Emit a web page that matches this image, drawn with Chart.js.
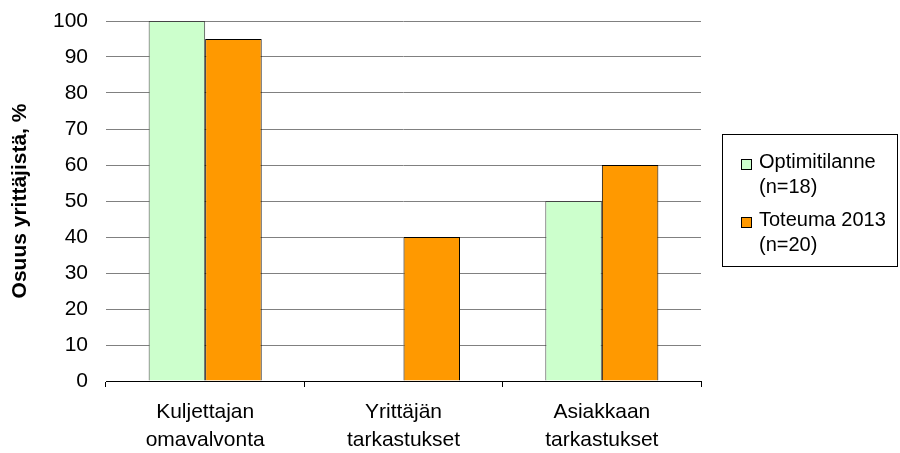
<!DOCTYPE html>
<html>
<head>
<meta charset="utf-8">
<script src="https://cdn.jsdelivr.net/npm/chart.js@4.4.1/dist/chart.umd.min.js"></script>
<style>
  html, body { margin: 0; padding: 0; background: #fff; }
  #wrap { width: 900px; height: 453px; position: relative; }
</style>
</head>
<body>
<div id="wrap"><canvas id="chart" width="900" height="453"></canvas></div>
<script>
const categories = [["Kuljettajan", "omavalvonta"], ["Yrittäjän", "tarkastukset"], ["Asiakkaan", "tarkastukset"]];
const optimiValues = [100, 0, 50];
const toteumaValues = [95, 40, 60];
const seriesNames = [["Optimitilanne", "(n=18)"], ["Toteuma 2013", "(n=20)"]];
const seriesColors = ["#ccffcc", "#ff9900"];

const FONT = "Arial, 'Liberation Sans', sans-serif";

// legend box on the right side, two lines per entry
const boxLegend = {
  id: "boxLegend",
  afterDraw(chart) {
    const ctx = chart.ctx;
    ctx.save();
    ctx.strokeStyle = "#000";
    ctx.lineWidth = 1;
    ctx.strokeRect(722.5, 134.5, 175, 132);
    ctx.font = "20px " + FONT;
    ctx.fillStyle = "#000";
    ctx.textBaseline = "alphabetic";
    chart.data.datasets.forEach((ds, i) => {
      const y = 159 + i * 58;
      ctx.fillStyle = ds.backgroundColor;
      ctx.fillRect(741, y, 10, 10);
      ctx.strokeStyle = "#000";
      ctx.strokeRect(741.5, y + 0.5, 10, 10);
      ctx.fillStyle = "#000";
      seriesNames[i].forEach((line, j) => {
        ctx.fillText(line, 759, y + 9 + j * 25);
      });
    });
    ctx.restore();
  }
};

new Chart(document.getElementById("chart"), {
  type: "bar",
  data: {
    labels: categories,
    datasets: [
      {
        label: seriesNames[0].join(" "),
        data: optimiValues,
        backgroundColor: seriesColors[0],
        borderColor: "#444",
        borderWidth: 1
      },
      {
        label: seriesNames[1].join(" "),
        data: toteumaValues,
        backgroundColor: seriesColors[1],
        borderColor: "#000",
        borderWidth: 1
      }
    ]
  },
  options: {
    responsive: false,
    animation: false,
    events: [],
    layout: { padding: { top: 21, right: 199, left: 0, bottom: 0 } },
    datasets: { bar: { categoryPercentage: 0.57, barPercentage: 1 } },
    plugins: {
      legend: { display: false },
      tooltip: { enabled: false }
    },
    scales: {
      x: {
        grid: {
          display: true,
          drawOnChartArea: false,
          drawTicks: true,
          tickLength: 6,
          color: "#000",
          offset: true
        },
        border: { display: true, color: "#000", width: 1 },
        ticks: {
          color: "#000",
          font: { family: FONT, size: 21, lineHeight: 1.3 },
          padding: 12,
          maxRotation: 0,
          autoSkip: false
        },
        afterFit(scale) {
          scale.height = 72;
          scale.paddingLeft = 0;
          scale.paddingRight = 0;
        }
      },
      y: {
        min: 0,
        max: 100,
        ticks: {
          stepSize: 10,
          color: "#000",
          font: { family: FONT, size: 21 },
          padding: 18
        },
        grid: { color: "#808080", lineWidth: 1, drawTicks: false },
        border: { display: false },
        title: {
          display: true,
          text: "Osuus yrittäjistä, %",
          color: "#000",
          font: { family: FONT, size: 21, weight: "bold" },
          padding: { top: 8, bottom: 0 }
        },
        afterFit(scale) {
          scale.width = 106;
          scale.paddingTop = 0;
          scale.paddingBottom = 0;
        }
      }
    }
  },
  plugins: [boxLegend]
});
</script>
</body>
</html>
